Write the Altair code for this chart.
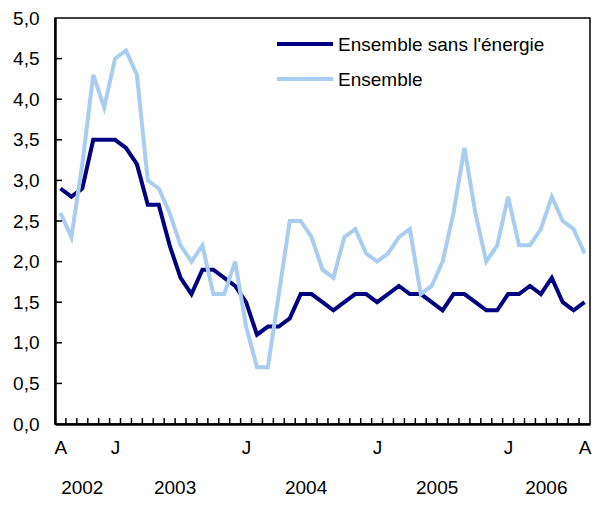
import altair as alt
import pandas as pd

# Monthly, August 2002 to August 2006
months = [f"{y}-{m:02d}" for y in range(2002, 2007) for m in range(1, 13)]
months = [m for m in months if "2002-08" <= m <= "2006-08"]

core = [2.9, 2.8, 2.9, 3.5, 3.5, 3.5, 3.4, 3.2, 2.7, 2.7,
        2.2, 1.8, 1.6, 1.9, 1.9, 1.8, 1.7, 1.5, 1.1, 1.2,
        1.2, 1.3, 1.6, 1.6, 1.5, 1.4, 1.5, 1.6, 1.6, 1.5,
        1.6, 1.7, 1.6, 1.6, 1.5, 1.4, 1.6, 1.6, 1.5, 1.4,
        1.4, 1.6, 1.6, 1.7, 1.6, 1.8, 1.5, 1.4, 1.5]
total = [2.6, 2.3, 3.2, 4.3, 3.9, 4.5, 4.6, 4.3, 3.0, 2.9,
         2.6, 2.2, 2.0, 2.2, 1.6, 1.6, 2.0, 1.2, 0.7, 0.7,
         1.6, 2.5, 2.5, 2.3, 1.9, 1.8, 2.3, 2.4, 2.1, 2.0,
         2.1, 2.3, 2.4, 1.6, 1.7, 2.0, 2.6, 3.4, 2.6, 2.0,
         2.2, 2.8, 2.2, 2.2, 2.4, 2.8, 2.5, 2.4, 2.1]

series_names = ["Ensemble sans l'énergie", "Ensemble"]
series_colors = ["#000080", "#a8cdf1"]

y_ticks = [0.0, 0.5, 1.0, 1.5, 2.0, 2.5, 3.0, 3.5, 4.0, 4.5, 5.0]
month_tick_idx = [0, 5, 17, 29, 41, 48]
month_tick_labels = ["A", "J", "J", "J", "J", "A"]
years = ["2002", "2003", "2004", "2005", "2006"]

FONT = "Liberation Sans"
FS = 19
W, H = 535, 406

idx = list(range(len(months)))
df_core = pd.DataFrame({"idx": idx, "value": core, "series": series_names[0]})
df_total = pd.DataFrame({"idx": idx, "value": total, "series": series_names[1]})

year_centers = []
for y in years:
    ii = [i for i, m in enumerate(months) if m.startswith(y)]
    year_centers.append((ii[0] + ii[-1]) / 2)
df_years = pd.DataFrame({"c": year_centers, "year": years})

df_xt = pd.DataFrame({"pos": [i + 0.5 for i in idx[:-1]]})
df_yt = pd.DataFrame({"v": y_ticks[1:-1]})

x_scale = alt.Scale(domain=[-0.5, len(months) - 0.5], nice=False, zero=False)
y_scale = alt.Scale(domain=[0, 5], nice=False)

label_expr = " : ".join(
    [f"datum.value == {v} ? '{t}'" for v, t in zip(month_tick_idx, month_tick_labels)]
) + " : ''"

x_axis = alt.Axis(values=month_tick_idx, labelExpr=label_expr, ticks=False, grid=False,
                  title=None, domainColor="black", domainWidth=2.5, labelFont=FONT,
                  labelFontSize=FS, labelColor="black", labelPadding=14,
                  labelOverlap=False, labelBound=False, labelFlush=False)
y_axis = alt.Axis(values=y_ticks, labelExpr="replace(format(datum.value, '.1f'), '.', ',')",
                  ticks=False, grid=False, title=None, domainColor="black", domainWidth=2.5,
                  labelFont=FONT, labelFontSize=FS, labelColor="black", labelPadding=16,
                  labelOverlap=False, labelBound=False, labelFlush=False)

line_core = alt.Chart(df_core).mark_line(strokeWidth=4, color=series_colors[0]).encode(
    x=alt.X("idx:Q", scale=x_scale, axis=x_axis),
    y=alt.Y("value:Q", scale=y_scale, axis=y_axis),
)
line_total = alt.Chart(df_total).mark_line(strokeWidth=4, color=series_colors[1]).encode(
    x=alt.X("idx:Q", scale=x_scale),
    y=alt.Y("value:Q", scale=y_scale),
)

xticks = alt.Chart(df_xt).mark_rule(color="black", strokeWidth=1.5).encode(
    x=alt.X("pos:Q", scale=x_scale),
    y=alt.value(H), y2=alt.value(H - 6),
)
yticks = alt.Chart(df_yt).mark_rule(color="black", strokeWidth=1.5).encode(
    y=alt.Y("v:Q", scale=y_scale),
    x=alt.value(0), x2=alt.value(7),
)

year_text = alt.Chart(df_years).mark_text(font=FONT, fontSize=FS, color="black",
                                           baseline="middle", align="center").encode(
    x=alt.X("c:Q", scale=x_scale),
    y=alt.value(H + 64),
    text="year:N",
)

legend_layers = []
for k, (name, col) in enumerate(zip(series_names, series_colors)):
    ly = 26 + k * 35
    legend_layers.append(
        alt.Chart(pd.DataFrame({"s": [name]})).mark_rule(color=col, strokeWidth=4).encode(
            x=alt.value(222), x2=alt.value(278), y=alt.value(ly))
    )
    legend_layers.append(
        alt.Chart(pd.DataFrame({"s": [name]})).mark_text(font=FONT, fontSize=FS, color="black",
                                                          align="left", baseline="middle").encode(
            x=alt.value(283), y=alt.value(ly + 1), text="s:N")
    )

chart = alt.layer(line_core, line_total, xticks, yticks, year_text, *legend_layers).properties(
    width=W, height=H,
    padding={"left": 47, "top": 10, "right": 6, "bottom": 74},
    autosize=alt.AutoSizeParams(type="none"),
).configure_view(stroke="black", strokeWidth=1.5)

chart.save("out.html", embed_options={"renderer": "svg", "actions": False})
